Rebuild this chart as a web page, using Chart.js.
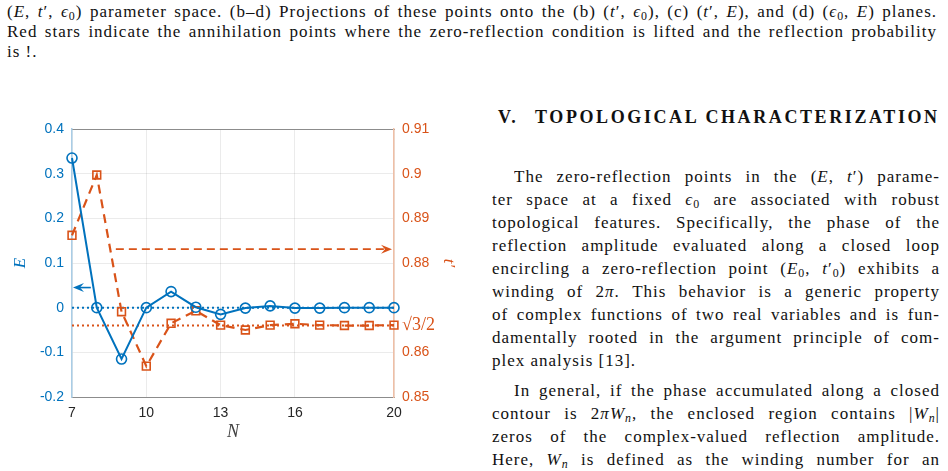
<!DOCTYPE html>
<html>
<head>
<meta charset="utf-8">
<script src="https://cdn.jsdelivr.net/npm/chart.js"></script>
<style>
body { margin: 0; width: 948px; height: 471px; overflow: hidden; background: #fff; position: relative;
  font-family: "Liberation Serif", serif; color: #111; }
.ln { position: absolute; font-family: "Liberation Serif", serif; font-size: 17px; line-height: 20px; height: 20px;
  white-space: nowrap; letter-spacing: 1px; }
.j { white-space: normal; text-align: justify; text-align-last: justify; overflow: hidden; }
sub { font-size: 0.7em; line-height: 0; vertical-align: -0.25em; }
.hd { font-weight: bold; font-size: 18px; letter-spacing: 2.6px; }
#wrap { position: absolute; left: 0; top: 110px; width: 475px; height: 340px; }
</style>
</head>
<body>

<!-- caption lines above the figure -->
<div class="ln j" style="left:7px; top:2px; width:930px">(<i>E</i>, <i>t</i>′, <i>ϵ</i><sub>0</sub>) parameter space. (b–d) Projections of these points onto the (b) (<i>t</i>′, <i>ϵ</i><sub>0</sub>), (c) (<i>t</i>′, <i>E</i>), and (d) (<i>ϵ</i><sub>0</sub>, <i>E</i>) planes.</div>
<div class="ln j" style="left:7px; top:22px; width:930px">Red stars indicate the annihilation points where the zero-reflection condition is lifted and the reflection probability</div>
<div class="ln" style="left:7px; top:42px">is !.</div>

<!-- section text, right column -->
<div class="ln hd" style="left:498px; top:107px">V.</div>
<div class="ln hd" style="left:535px; top:107px">TOPOLOGICAL CHARACTERIZATION</div>

<div class="ln j" style="left:514px; top:167px; width:426px">The zero-reflection points in the (<i>E</i>, <i>t</i>′) parame-</div>
<div class="ln j" style="left:492px; top:190px; width:448px">ter space at a fixed <i>ϵ</i><sub>0</sub> are associated with robust</div>
<div class="ln j" style="left:492px; top:213px; width:448px">topological features. Specifically, the phase of the</div>
<div class="ln j" style="left:492px; top:236px; width:448px">reflection amplitude evaluated along a closed loop</div>
<div class="ln j" style="left:492px; top:259px; width:448px">encircling a zero-reflection point (<i>E</i><sub>0</sub>, <i>t</i>′<sub>0</sub>) exhibits a</div>
<div class="ln j" style="left:492px; top:282px; width:448px">winding of 2<i>π</i>. This behavior is a generic property</div>
<div class="ln j" style="left:492px; top:305px; width:448px">of complex functions of two real variables and is fun-</div>
<div class="ln j" style="left:492px; top:328px; width:448px">damentally rooted in the argument principle of com-</div>
<div class="ln" style="left:492px; top:351px">plex analysis [13].</div>

<div class="ln j" style="left:514px; top:381px; width:426px">In general, if the phase accumulated along a closed</div>
<div class="ln j" style="left:492px; top:404px; width:448px">contour is 2<i>πW<sub>n</sub></i>, the enclosed region contains |<i>W<sub>n</sub></i>|</div>
<div class="ln j" style="left:492px; top:427px; width:448px">zeros of the complex-valued reflection amplitude.</div>
<div class="ln j" style="left:492px; top:450px; width:448px">Here, <i>W<sub>n</sub></i> is defined as the winding number for an</div>

<div id="wrap"><canvas id="chart" width="475" height="340"></canvas></div>

<script>
// values
var nValues = [7, 8, 9, 10, 11, 12, 13, 14, 15, 16, 17, 18, 19, 20];
var eValues = [0.335, 0, -0.115, 0, 0.036, 0.001, -0.015, -0.001, 0.004, -0.001, -0.001, 0, 0, 0];
var tValues = [0.8862, 0.8997, 0.8691, 0.8569, 0.8665, 0.8693, 0.8661, 0.8650, 0.8661, 0.8664, 0.8661, 0.8660, 0.8660, 0.8661];

// tick labels
var xTicks = [7, 10, 13, 16, 20];
var eTicks = [-0.2, -0.1, 0, 0.1, 0.2, 0.3, 0.4];
var tRef = Math.sqrt(3) / 2;
var tTicks = [0.85, 0.86, tRef, 0.88, 0.89, 0.9, 0.91];

// arrows telling which axis goes with which curve: [from N, to N, level]
var eArrow = [7.76, 7.04, 0.045];
var tArrow = [8.77, 19.92, 0.8831];

var blue = "#0072BD";
var orange = "#D95319";
var gridColor = "rgba(0,0,0,0.08)";
var sansFont = "'Liberation Sans', Arial, sans-serif";

function toPoints(xs, ys) {
  return xs.map(function(x, i) { return { x: x, y: ys[i] }; });
}

function drawArrow(ctx, x0, x1, y, color, dash) {
  var dir = x1 > x0 ? 1 : -1;
  ctx.save();
  ctx.strokeStyle = color;
  ctx.fillStyle = color;
  ctx.lineWidth = 1.6;
  ctx.setLineDash(dash);
  ctx.beginPath();
  ctx.moveTo(x0, y);
  ctx.lineTo(x1 - dir * 6, y);
  ctx.stroke();
  ctx.setLineDash([]);
  // stealth style head
  ctx.beginPath();
  ctx.moveTo(x1, y);
  ctx.lineTo(x1 - dir * 11, y - 4.5);
  ctx.lineTo(x1 - dir * 7, y);
  ctx.lineTo(x1 - dir * 11, y + 4.5);
  ctx.closePath();
  ctx.fill();
  ctx.restore();
}

var arrowPlugin = {
  id: "arrows",
  afterDatasetsDraw: function(chart) {
    var ctx = chart.ctx;
    var x = chart.scales.x;
    drawArrow(ctx, x.getPixelForValue(eArrow[0]), x.getPixelForValue(eArrow[1]),
      chart.scales.y.getPixelForValue(eArrow[2]), blue, []);
    drawArrow(ctx, x.getPixelForValue(tArrow[0]), x.getPixelForValue(tArrow[1]),
      chart.scales.y2.getPixelForValue(tArrow[2]), orange, [8, 5]);
  }
};

function fixTicks(list) {
  return function(scale) {
    scale.ticks = list.map(function(v) { return { value: v }; });
  };
}

new Chart(document.getElementById("chart"), {
  type: "line",
  data: {
    datasets: [
      {
        label: "E",
        data: toPoints(nValues, eValues),
        yAxisID: "y",
        borderColor: blue,
        borderWidth: 2,
        pointStyle: "circle",
        pointRadius: 5,
        pointBorderWidth: 1.6,
        pointBorderColor: blue,
        pointBackgroundColor: "rgba(0,0,0,0)",
        clip: false
      },
      {
        label: "t'",
        data: toPoints(nValues, tValues),
        yAxisID: "y2",
        borderColor: orange,
        borderWidth: 2.2,
        borderDash: [9, 6],
        pointStyle: "rect",
        pointRadius: 5.5,
        pointBorderWidth: 1.6,
        pointBorderColor: orange,
        pointBackgroundColor: "rgba(0,0,0,0)",
        clip: false
      },
      {
        label: "E = 0",
        data: toPoints([7, 20], [0, 0]),
        yAxisID: "y",
        borderColor: blue,
        borderWidth: 2,
        borderDash: [2, 3],
        pointRadius: 0
      },
      {
        label: "sqrt(3)/2",
        data: toPoints([7, 20], [tRef, tRef]),
        yAxisID: "y2",
        borderColor: orange,
        borderWidth: 2,
        borderDash: [2, 3],
        pointRadius: 0
      }
    ]
  },
  options: {
    responsive: false,
    animation: false,
    devicePixelRatio: 1,
    events: [],
    layout: { autoPadding: false, padding: { top: 19, left: 0, right: 0, bottom: 0 } },
    plugins: { legend: { display: false }, tooltip: { enabled: false } },
    scales: {
      x: {
        type: "linear",
        position: "bottom",
        min: 7,
        max: 20,
        afterBuildTicks: fixTicks(xTicks),
        afterFit: function(s) { s.height = 53; },
        ticks: { color: "#262626", font: { family: sansFont, size: 14 }, padding: 8, maxRotation: 0, autoSkip: false },
        grid: { color: gridColor, drawTicks: false },
        border: { color: "#8c8c8c", width: 1 },
        title: { display: true, text: "N", color: "#404040", padding: { top: 0, bottom: 7 },
          font: { family: "'Liberation Serif', serif", style: "italic", size: 18 } }
      },
      x2: {
        type: "linear",
        position: "top",
        min: 7,
        max: 20,
        afterFit: function(s) { s.height = 0; },
        ticks: { display: false },
        grid: { display: false, drawTicks: false },
        border: { color: "#8c8c8c", width: 1 }
      },
      y: {
        position: "left",
        min: -0.2,
        max: 0.4,
        afterBuildTicks: fixTicks(eTicks),
        afterFit: function(s) { s.width = 72; },
        ticks: {
          color: blue,
          font: { family: sansFont, size: 14 },
          padding: 8,
          callback: function(v) { return String(Math.round(v * 10) / 10); }
        },
        grid: { color: gridColor, drawTicks: false },
        border: { color: "#a9cde6", width: 1.5 },
        title: { display: true, text: "E", color: blue, padding: { top: 10, bottom: 0 },
          font: { family: "'Liberation Serif', serif", style: "italic", size: 17 } }
      },
      y2: {
        position: "right",
        min: 0.85,
        max: 0.91,
        afterBuildTicks: fixTicks(tTicks),
        afterFit: function(s) { s.width = 81; },
        ticks: {
          color: orange,
          padding: 8,
          font: function(c) {
            if (c.tick && Math.abs(c.tick.value - tRef) < 1e-9) {
              return { family: "'Liberation Serif', serif", size: 18 };
            }
            return { family: sansFont, size: 14 };
          },
          callback: function(v) {
            if (Math.abs(v - tRef) < 1e-9) return "√3/2";
            return String(+v.toFixed(2));
          }
        },
        grid: { display: false, drawTicks: false },
        border: { color: "#efbfa6", width: 1.5 },
        title: { display: true, text: "t′", color: orange, padding: { top: 16, bottom: 0 },
          font: { family: "'Liberation Serif', serif", style: "italic", size: 17 } }
      }
    }
  },
  plugins: [arrowPlugin]
});
</script>
</body>
</html>
